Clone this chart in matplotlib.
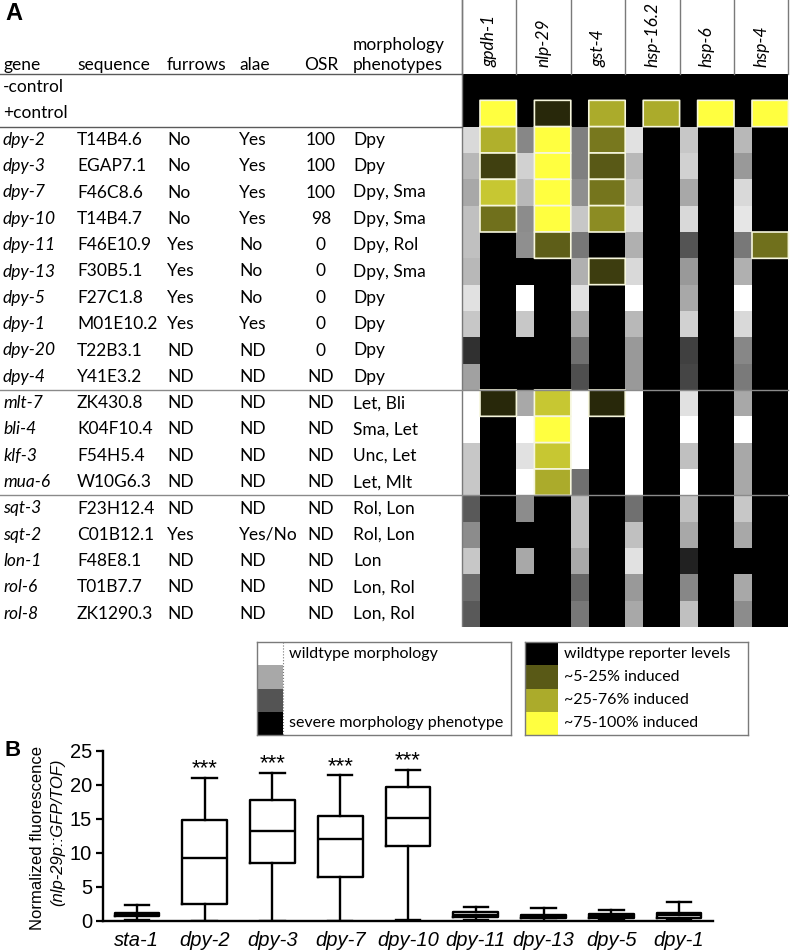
import numpy as np
import matplotlib
matplotlib.use("Agg")
import matplotlib.pyplot as plt
from matplotlib.colors import LinearSegmentedColormap

plt.rcParams['font.family'] = ['Lato', 'DejaVu Sans']

# ---------------- panel A data ----------------
genes = ['dpy-2', 'dpy-3', 'dpy-7', 'dpy-10', 'dpy-11', 'dpy-13', 'dpy-5', 'dpy-1',
         'dpy-20', 'dpy-4', 'mlt-7', 'bli-4', 'klf-3', 'mua-6', 'sqt-3', 'sqt-2',
         'lon-1', 'rol-6', 'rol-8']
sequences = ['T14B4.6', 'EGAP7.1', 'F46C8.6', 'T14B4.7', 'F46E10.9', 'F30B5.1', 'F27C1.8',
             'M01E10.2', 'T22B3.1', 'Y41E3.2', 'ZK430.8', 'K04F10.4', 'F54H5.4', 'W10G6.3',
             'F23H12.4', 'C01B12.1', 'F48E8.1', 'T01B7.7', 'ZK1290.3']
furrows = ['No', 'No', 'No', 'No', 'Yes', 'Yes', 'Yes', 'Yes', 'ND', 'ND',
           'ND', 'ND', 'ND', 'ND', 'ND', 'Yes', 'ND', 'ND', 'ND']
alae = ['Yes', 'Yes', 'Yes', 'Yes', 'No', 'No', 'No', 'Yes', 'ND', 'ND',
        'ND', 'ND', 'ND', 'ND', 'ND', 'Yes/No', 'ND', 'ND', 'ND']
osr = ['100', '100', '100', '98', '0', '0', '0', '0', '0', 'ND',
       'ND', 'ND', 'ND', 'ND', 'ND', 'ND', 'ND', 'ND', 'ND']
phenotypes = ['Dpy', 'Dpy', 'Dpy, Sma', 'Dpy, Sma', 'Dpy, Rol', 'Dpy, Sma', 'Dpy', 'Dpy',
              'Dpy', 'Dpy', 'Let, Bli', 'Sma, Let', 'Unc, Let', 'Let, Mlt', 'Rol, Lon',
              'Rol, Lon', 'Lon', 'Lon, Rol', 'Lon, Rol']
controls = ['-control', '+control']
reporters = ['gpdh-1', 'nlp-29', 'gst-4', 'hsp-16.2', 'hsp-6', 'hsp-4']

# morphology shade, 1 = wildtype (white), 0 = severe (black); one per reporter strain
morphology = np.array([
    [0.85, 0.53, 0.50, 0.88, 0.78, 0.72],
    [0.72, 0.82, 0.50, 0.72, 0.82, 0.60],
    [0.66, 0.72, 0.56, 0.78, 0.66, 0.85],
    [0.75, 0.55, 0.78, 0.88, 0.85, 0.90],
    [0.75, 0.56, 0.47, 0.69, 0.33, 0.47],
    [0.72, 0.00, 0.69, 0.85, 0.60, 0.69],
    [0.88, 1.00, 0.88, 1.00, 0.66, 1.00],
    [0.78, 0.78, 0.66, 0.72, 0.82, 0.85],
    [0.19, 0.00, 0.44, 0.60, 0.25, 0.53],
    [0.63, 0.00, 0.31, 0.60, 0.27, 0.48],
    [1.00, 0.66, 1.00, 1.00, 0.88, 0.66],
    [1.00, 1.00, 1.00, 1.00, 1.00, 1.00],
    [0.78, 0.88, 1.00, 1.00, 0.75, 0.66],
    [0.78, 1.00, 0.44, 1.00, 1.00, 0.66],
    [0.35, 0.55, 0.75, 0.44, 0.75, 0.78],
    [0.55, 0.00, 0.75, 0.75, 0.66, 0.66],
    [0.78, 0.66, 0.66, 0.88, 0.13, 0.00],
    [0.42, 0.00, 0.40, 0.60, 0.53, 0.66],
    [0.35, 0.00, 0.47, 0.66, 0.75, 0.55],
])
control_morphology = np.zeros((2, 6))

# reporter induction, 0 = wildtype levels (black), 1 = fully induced (yellow)
induction = np.array([
    [0.69, 1.00, 0.47, 0, 0, 0],
    [0.25, 1.00, 0.35, 0, 0, 0],
    [0.78, 1.00, 0.46, 0, 0, 0],
    [0.44, 1.00, 0.55, 0, 0, 0],
    [0, 0.37, 0, 0, 0, 0.44],
    [0, 0, 0.24, 0, 0, 0],
    [0, 0, 0, 0, 0, 0],
    [0, 0, 0, 0, 0, 0],
    [0, 0, 0, 0, 0, 0],
    [0, 0, 0, 0, 0, 0],
    [0.16, 0.78, 0.16, 0, 0, 0],
    [0, 1.00, 0, 0, 0, 0],
    [0, 0.78, 0, 0, 0, 0],
    [0, 0.67, 0, 0, 0, 0],
    [0, 0, 0, 0, 0, 0],
    [0, 0, 0, 0, 0, 0],
    [0, 0, 0, 0, 0, 0],
    [0, 0, 0, 0, 0, 0],
    [0, 0, 0, 0, 0, 0],
])
control_induction = np.array([
    [0, 0, 0, 0, 0, 0],
    [1.00, 0.16, 0.67, 0.67, 1.00, 1.00],
])

legend_morph = [1.0, 0.66, 0.33, 0.0]
legend_morph_labels = ['wildtype morphology', '', '', 'severe morphology phenotype']
legend_induction = [0.0, 0.35, 0.67, 1.0]
legend_induction_labels = ['wildtype reporter levels', '~5-25% induced',
                           '~25-76% induced', '~75-100% induced']
section_breaks = [10, 14]   # lines after dpy-4 and mua-6

# ---------------- panel B data ----------------
strains = ['sta-1', 'dpy-2', 'dpy-3', 'dpy-7', 'dpy-10', 'dpy-11', 'dpy-13', 'dpy-5', 'dpy-1']
whisker_lo = [0.1, 0.05, 0.05, 0.05, 0.2, 0.2, 0.05, 0.15, 0.15]
q1 = [0.7, 2.5, 8.5, 6.45, 11.1, 0.6, 0.4, 0.4, 0.5]
medians = [1.0, 9.3, 13.3, 12.0, 15.1, 0.93, 0.68, 0.7, 0.88]
q3 = [1.25, 14.85, 17.8, 15.45, 19.7, 1.27, 0.93, 1.0, 1.17]
whisker_hi = [2.3, 21.1, 21.8, 21.4, 22.2, 2.05, 1.9, 1.66, 2.83]
stars = ['', '***', '***', '***', '***', '', '', '', '']

# ---------------- layout ----------------
W, H = 793, 952
HEAD_H = 74
TABLE_BOTTOM = 627
n_rows = len(genes) + len(controls)
ROW_H = (TABLE_BOTTOM - HEAD_H) / n_rows
HEAD_ROWS = HEAD_H / ROW_H
HEAT_X0 = 462
GROUP_W = 54.4
GRAY_W = 18
LINE_C = '#5a5a5a'

rep_cmap = LinearSegmentedColormap.from_list('rep', ['#000000', '#ffff40'])

fig = plt.figure(figsize=(W / 100, H / 100), dpi=100)

# ---------------- panel A ----------------
axA = fig.add_axes([0, 1 - TABLE_BOTTOM / H, 1, TABLE_BOTTOM / H])
axA.set_xlim(0, W)
axA.set_ylim(len(genes), -len(controls) - HEAD_ROWS)
axA.axis('off')

xe = []
for g in range(len(reporters)):
    x0 = HEAT_X0 + g * GROUP_W
    xe += [x0, x0 + GRAY_W]
xe.append(HEAT_X0 + len(reporters) * GROUP_W)
xe = np.array(xe)
ye = np.arange(-len(controls), len(genes) + 1)

morph_all = np.vstack([control_morphology, morphology])
ind_all = np.vstack([control_induction, induction])
grid = np.zeros((n_rows, 2 * len(reporters)))
grid[:, 0::2] = morph_all
grid[:, 1::2] = ind_all
gray_mask = np.zeros_like(grid, dtype=bool)
gray_mask[:, 1::2] = True

axA.pcolormesh(xe, ye, np.ma.array(grid, mask=gray_mask), cmap='gray', vmin=0, vmax=1)
axA.pcolormesh(xe, ye, np.ma.array(grid, mask=~gray_mask), cmap=rep_cmap, vmin=0, vmax=1)
axA.pcolor(xe, ye, np.ma.array(grid, mask=(~gray_mask) | (grid == 0)), cmap=rep_cmap,
           vmin=0, vmax=1, edgecolors='#f6f6dc', linewidths=1.2)

fs = 12.5
col_x = {'gene': 3, 'sequence': 77, 'furrows': 167, 'alae': 239, 'osr': 321, 'pheno': 353}
head_base = -len(controls) - 4 / ROW_H
axA.text(col_x['gene'], head_base, 'gene', fontsize=fs, va='baseline')
axA.text(col_x['sequence'], head_base, 'sequence', fontsize=fs, va='baseline')
axA.text(col_x['furrows'], head_base, 'furrows', fontsize=fs, va='baseline')
axA.text(col_x['alae'], head_base, 'alae', fontsize=fs, va='baseline')
axA.text(col_x['osr'], head_base, 'OSR', fontsize=fs, va='baseline', ha='center')
axA.text(col_x['pheno'], head_base, 'phenotypes', fontsize=fs, va='baseline')
axA.text(col_x['pheno'], head_base - 20 / ROW_H, 'morphology', fontsize=fs, va='baseline')

for i, c in enumerate(controls):
    axA.text(col_x['gene'], i - len(controls) + 0.5, c, fontsize=fs, va='center')
for i, gname in enumerate(genes):
    y = i + 0.5
    axA.text(col_x['gene'], y, gname, fontsize=fs, va='center', style='italic')
    axA.text(col_x['sequence'], y, sequences[i], fontsize=fs, va='center')
    axA.text(col_x['furrows'], y, furrows[i], fontsize=fs, va='center')
    axA.text(col_x['alae'], y, alae[i], fontsize=fs, va='center')
    axA.text(col_x['osr'], y, osr[i], fontsize=fs, va='center', ha='center')
    axA.text(col_x['pheno'], y, phenotypes[i], fontsize=fs, va='center')

for g, r in enumerate(reporters):
    xc = HEAT_X0 + (g + 0.5) * GROUP_W
    axA.text(xc, -len(controls) - 7 / ROW_H, r, rotation=90, ha='center', va='bottom',
             fontsize=fs, style='italic')

top = -len(controls) - HEAD_ROWS
for x in xe[0::2]:
    axA.plot([x, x], [top, -len(controls)], color='#7a7a7a', lw=1)
axA.plot([HEAT_X0, HEAT_X0], [top, len(genes)], color='#7a7a7a', lw=1)
axA.plot([0, HEAT_X0], [-len(controls), -len(controls)], color=LINE_C, lw=1)
axA.plot([0, HEAT_X0], [0, 0], color=LINE_C, lw=1)
for b in section_breaks:
    axA.plot([0, xe[-1]], [b, b], color='#8a8a8a', lw=1)

fig.text(5 / W, 1 - 14 / H, 'A', fontsize=17, fontweight='bold', va='center',
         family='Liberation Sans')

# legends
def draw_legend(box, sw_w, values, labels, cmap, dotted):
    x0, y0, w, h = box
    ax = fig.add_axes([x0 / W, 1 - (y0 + h) / H, w / W, h / H])
    ax.set_xlim(0, w)
    ax.set_ylim(len(values), 0)
    ax.pcolormesh([0, sw_w], np.arange(len(values) + 1), np.array(values)[:, None],
                  cmap=cmap, vmin=0, vmax=1)
    for i, lab in enumerate(labels):
        ax.text(sw_w + 6, i + 0.5, lab, fontsize=11.5, va='center')
    if dotted:
        ax.plot([sw_w, sw_w], [0, len(values)], color='#777777', lw=0.8, ls=':')
    ax.set_xticks([])
    ax.set_yticks([])
    for s in ax.spines.values():
        s.set_color('#7a7a7a')
        s.set_linewidth(1)

draw_legend((257, 642, 254, 93), 26, legend_morph, legend_morph_labels, 'gray', True)
draw_legend((525, 642, 223, 93), 33, legend_induction, legend_induction_labels, rep_cmap, False)

# ---------------- panel B ----------------
axB = fig.add_axes([103 / W, 1 - 921 / H, 610 / W, 170 / H])
stats = []
for i, s in enumerate(strains):
    stats.append({'label': s, 'whislo': whisker_lo[i], 'q1': q1[i], 'med': medians[i],
                  'q3': q3[i], 'whishi': whisker_hi[i]})
lw = 1.7
axB.bxp(stats, positions=np.arange(len(strains)), widths=0.66, capwidths=0.36,
        showfliers=False,
        boxprops=dict(color='black', linewidth=lw),
        whiskerprops=dict(color='black', linewidth=lw),
        capprops=dict(color='black', linewidth=lw),
        medianprops=dict(color='black', linewidth=lw))
for i, st in enumerate(stars):
    if st:
        axB.text(i, whisker_hi[i] + 0.5, st, ha='center', va='baseline', fontsize=16,
                 family='Liberation Sans')
axB.set_xlim(-0.5, len(strains) - 0.5)
axB.set_ylim(0, 25)
axB.set_yticks([0, 5, 10, 15, 20, 25])
axB.set_xticks(np.arange(len(strains)))
axB.set_xticklabels(strains, style='italic', fontsize=14.5, family='Liberation Sans')
for lab in axB.get_yticklabels():
    lab.set_fontsize(14.5)
    lab.set_family('Liberation Sans')
axB.tick_params(axis='x', length=0, pad=7)
axB.tick_params(axis='y', length=5, width=1.6, pad=3)
axB.spines['top'].set_visible(False)
axB.spines['right'].set_visible(False)
axB.spines['left'].set_linewidth(1.7)
axB.spines['bottom'].set_linewidth(1.7)

fig.text(38 / W, 1 - 838 / H, 'Normalized fluorescence', rotation=90, ha='center',
         va='center', fontsize=12, family='Liberation Sans')
fig.text(58 / W, 1 - 832 / H, '(nlp-29p::GFP/TOF)', rotation=90, ha='center',
         va='center', fontsize=12, style='italic', family='Liberation Sans')
fig.text(4 / W, 1 - 750 / H, 'B', fontsize=16, fontweight='bold', va='center',
         family='Liberation Sans')

fig.savefig('out.png', dpi=100)
